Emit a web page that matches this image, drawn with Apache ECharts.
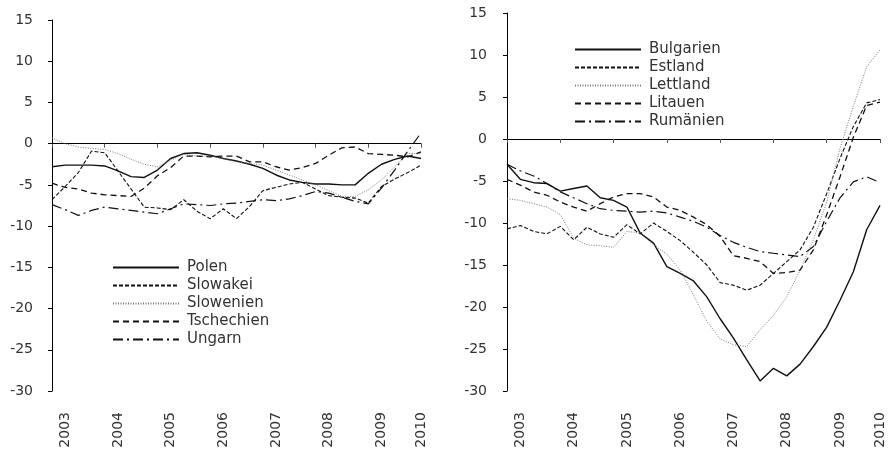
<!DOCTYPE html>
<html>
<head>
<meta charset="utf-8">
<script src="https://cdn.jsdelivr.net/npm/echarts@6/dist/echarts.min.js"></script>
<style>
  html, body { margin: 0; padding: 0; background: #fff; }
  #chart { width: 888px; height: 452px; }
</style>
</head>
<body>
<div id="chart"></div>
<script>
// Quarterly observations, 2003 Q1 to 2010 Q1
const quarters = [
  '2003Q1','2003Q2','2003Q3','2003Q4','2004Q1','2004Q2','2004Q3','2004Q4',
  '2005Q1','2005Q2','2005Q3','2005Q4','2006Q1','2006Q2','2006Q3','2006Q4',
  '2007Q1','2007Q2','2007Q3','2007Q4','2008Q1','2008Q2','2008Q3','2008Q4',
  '2009Q1','2009Q2','2009Q3','2009Q4','2010Q1'
];

// Left panel: central European countries
const polen      = [-2.8,-2.6,-2.6,-2.6,-2.7,-3.3,-4.0,-4.1,-3.2,-1.8,-1.2,-1.1,-1.4,-1.8,-2.1,-2.5,-3.0,-3.8,-4.4,-4.7,-4.9,-4.9,-5.0,-5.0,-3.6,-2.5,-1.9,-1.5,-1.8];
const slowakei   = [-6.8,-5.2,-3.5,-0.9,-1.1,-3.3,-5.5,-7.7,-7.8,-8.0,-6.8,-8.2,-9.1,-7.9,-9.1,-7.6,-5.7,-5.3,-4.9,-4.7,-5.5,-6.3,-6.5,-6.6,-7.2,-5.2,-4.3,-3.5,-2.6];
const slowenien  = [0.7,0.0,-0.4,-0.6,-0.7,-1.2,-1.9,-2.5,-2.8,-2.0,-1.3,-1.5,-1.5,-1.8,-2.2,-2.4,-2.6,-3.2,-3.8,-4.4,-5.0,-5.7,-6.4,-6.4,-5.6,-4.4,-2.8,-1.2,-1.2];
const tschechien = [-4.8,-5.3,-5.5,-6.0,-6.2,-6.3,-6.4,-5.4,-3.9,-2.9,-1.5,-1.5,-1.6,-1.5,-1.5,-2.2,-2.2,-2.8,-3.2,-2.9,-2.4,-1.4,-0.5,-0.4,-1.2,-1.3,-1.4,-1.6,-1.0];
const ungarn     = [-7.4,-8.0,-8.7,-8.1,-7.7,-7.9,-8.1,-8.3,-8.5,-7.9,-7.3,-7.4,-7.5,-7.3,-7.2,-7.0,-6.8,-6.9,-6.7,-6.3,-5.8,-6.0,-6.5,-7.0,-7.3,-5.4,-3.2,-0.9,1.3];

// Right panel: Baltic states, Bulgaria, Romania
const bulgarien  = [-3.0,-4.8,-5.2,-5.3,-6.2,-5.9,-5.6,-7.0,-7.3,-8.1,-11.2,-12.4,-15.2,-16.0,-16.9,-18.8,-21.4,-23.7,-26.3,-28.8,-27.3,-28.2,-26.8,-24.7,-22.4,-19.2,-15.8,-10.8,-7.9];
const estland    = [-10.7,-10.3,-11.0,-11.3,-10.4,-12.0,-10.5,-11.3,-11.7,-10.2,-11.3,-10.0,-11.0,-12.1,-13.5,-15.0,-17.1,-17.4,-18.0,-17.4,-16.0,-14.6,-13.2,-10.5,-6.5,-2.3,1.5,4.3,4.7];
const lettland   = [-7.1,-7.3,-7.7,-8.1,-9.0,-11.8,-12.6,-12.7,-12.9,-11.0,-11.2,-12.6,-13.7,-15.6,-18.6,-21.7,-23.8,-24.5,-24.7,-22.7,-21.0,-18.8,-15.6,-12.0,-7.5,-1.1,3.9,8.6,10.6];
const litauen    = [-4.8,-5.5,-6.3,-6.7,-7.5,-8.1,-8.6,-7.7,-6.9,-6.5,-6.5,-6.9,-8.1,-8.5,-9.3,-10.2,-11.6,-13.9,-14.2,-14.6,-16.0,-15.9,-15.6,-13.2,-9.0,-4.5,0.2,4.0,4.4];
const rumaenien  = [-3.0,-3.8,-4.4,-5.3,-6.3,-7.0,-7.7,-8.3,-8.5,-8.6,-8.7,-8.6,-8.8,-9.3,-9.8,-10.5,-11.5,-12.3,-12.9,-13.4,-13.6,-13.8,-14.0,-12.8,-9.8,-7.0,-5.1,-4.5,-5.2];

const leftNames  = ['Polen', 'Slowakei', 'Slowenien', 'Tschechien', 'Ungarn'];
const leftData   = [polen, slowakei, slowenien, tschechien, ungarn];
const rightNames = ['Bulgarien', 'Estland', 'Lettland', 'Litauen', 'Rumänien'];
const rightData  = [bulgarien, estland, lettland, litauen, rumaenien];

const FONT = 'DejaVu Sans';
const TEXT = '#333';
const INK = '#111';

// One line pattern per position in each panel
const lineStyles = [
  { type: 'solid',       width: 1.4, color: INK },
  { type: [4, 2],        width: 1.1, color: INK },
  { type: [1, 1.5],      width: 1.0, color: '#777' },
  { type: [6, 4],        width: 1.3, color: INK },
  { type: [10, 4, 2, 4], width: 1.2, color: INK }
];

const yAxisFor = (gridIndex, margin) => ({
  type: 'value', gridIndex, min: -30, max: 15, interval: 5,
  axisLine: { show: true, lineStyle: { color: '#000', width: 1 } },
  axisTick: { show: true, length: 4, lineStyle: { color: '#000' } },
  axisLabel: { margin, color: TEXT, fontFamily: FONT, fontSize: 14 },
  splitLine: { show: false }
});

// Axis on the zero line with yearly ticks
const tickAxisFor = (gridIndex) => ({
  type: 'category', gridIndex, data: quarters, boundaryGap: false,
  axisLine: { onZero: true, lineStyle: { color: '#000', width: 1.2 } },
  axisTick: { show: true, length: 4, interval: (i) => i % 4 === 0, lineStyle: { color: '#555' } },
  axisLabel: { show: false },
  splitLine: { show: false }
});

// Axis at the bottom carrying the rotated year labels
const labelAxisFor = (gridIndex) => ({
  type: 'category', gridIndex, data: quarters, boundaryGap: false, position: 'bottom',
  axisLine: { show: false, onZero: false },
  axisTick: { show: false },
  axisLabel: {
    rotate: 90, margin: 21, color: TEXT, fontFamily: FONT, fontSize: 14,
    interval: (i) => i === quarters.length - 1 || i % 4 === 1,
    formatter: (v) => v.slice(0, 4)
  },
  splitLine: { show: false }
});

const makeSeries = (names, data, axisIndex) => names.map((name, k) => ({
  name, type: 'line', data: data[k],
  xAxisIndex: axisIndex, yAxisIndex: axisIndex / 2,
  symbol: 'none', smooth: false, animation: false,
  itemStyle: { color: lineStyles[k].color },
  lineStyle: lineStyles[k]
}));

const legendFor = (names, left, top) => ({
  data: names, orient: 'vertical', left, top,
  itemWidth: 66, itemHeight: 14, itemGap: 3,
  itemStyle: { opacity: 0 },
  textStyle: { color: TEXT, fontFamily: FONT, fontSize: 15, padding: [0, 0, 0, 3] }
});

const chart = echarts.init(document.getElementById('chart'), null, { renderer: 'canvas' });
chart.setOption({
  backgroundColor: '#fff',
  animation: false,
  grid: [
    { left: 52, top: 20, width: 369, height: 371, outerBoundsMode: 'none', containLabel: false },
    { left: 507, top: 13, width: 373, height: 378, outerBoundsMode: 'none', containLabel: false }
  ],
  xAxis: [tickAxisFor(0), labelAxisFor(0), tickAxisFor(1), labelAxisFor(1)],
  yAxis: [yAxisFor(0, 19), yAxisFor(1, 20)],
  legend: [legendFor(leftNames, 107, 255), legendFor(rightNames, 569, 37)],
  series: [
    ...makeSeries(leftNames, leftData, 0),
    ...makeSeries(rightNames, rightData, 2)
  ]
});
</script>
</body>
</html>
